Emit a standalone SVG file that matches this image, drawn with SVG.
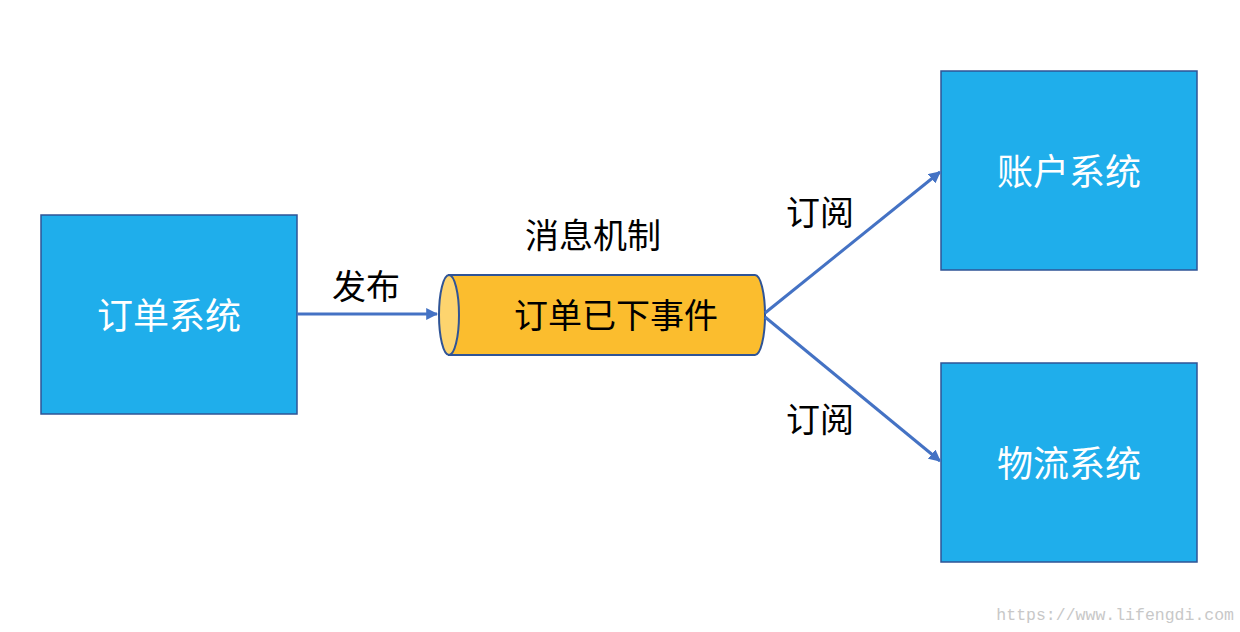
<svg xmlns="http://www.w3.org/2000/svg" width="1240" height="632" viewBox="0 0 1240 632">
<style>
.box{fill:#1faeeb;stroke:#2f5496;stroke-width:1.5}
.bt{fill:#fff;font-family:"Liberation Sans","Noto Sans CJK SC",sans-serif;font-size:36px;text-anchor:middle;dominant-baseline:central}
.lb{fill:#000;font-family:"Liberation Sans","Noto Sans CJK SC",sans-serif;font-size:34px;text-anchor:middle;dominant-baseline:central}
.ln{stroke:#4472c4;stroke-width:3;fill:none;marker-end:url(#ah)}
</style>
<defs><marker id="ah" viewBox="0 0 10 10" refX="9" refY="5" markerWidth="4" markerHeight="4" orient="auto" markerUnits="strokeWidth"><path d="M0,0L10,5L0,10z" fill="#4472c4"/></marker></defs>
<rect width="1240" height="632" fill="#fff"/>
<g id="order"><rect class="box" x="41" y="215" width="256" height="199"/><text class="bt" x="169" y="316">订单系统</text></g>
<g id="account"><rect class="box" x="941" y="71" width="256" height="199"/><text class="bt" x="1069" y="172">账户系统</text></g>
<g id="logistics"><rect class="box" x="941" y="363" width="256" height="199"/><text class="bt" x="1069" y="464">物流系统</text></g>
<g id="queue">
<path d="M449,275H755A10,40 0 0 1 755,355H449Z" fill="#fbbd2e" stroke="#2f5496" stroke-width="2"/>
<ellipse cx="449" cy="315" rx="10" ry="40" fill="#fdd46e" stroke="#2f5496" stroke-width="2"/>
<text class="lb" x="616" y="316" font-size="38">订单已下事件</text>
<text class="lb" x="593" y="236">消息机制</text>
</g>
<g id="connectors">
<line class="ln" x1="297" y1="314" x2="437" y2="314"/>
<line class="ln" x1="765" y1="313" x2="940" y2="172"/>
<line class="ln" x1="765" y1="317" x2="940" y2="461"/>
<text class="lb" x="366" y="287">发布</text>
<text class="lb" x="820" y="213">订阅</text>
<text class="lb" x="820" y="420">订阅</text>
</g>
<text x="1234" y="620" fill="#c8c8c8" font-family="Liberation Mono,monospace" font-size="16.5" text-anchor="end">https://www.lifengdi.com</text>
</svg>
